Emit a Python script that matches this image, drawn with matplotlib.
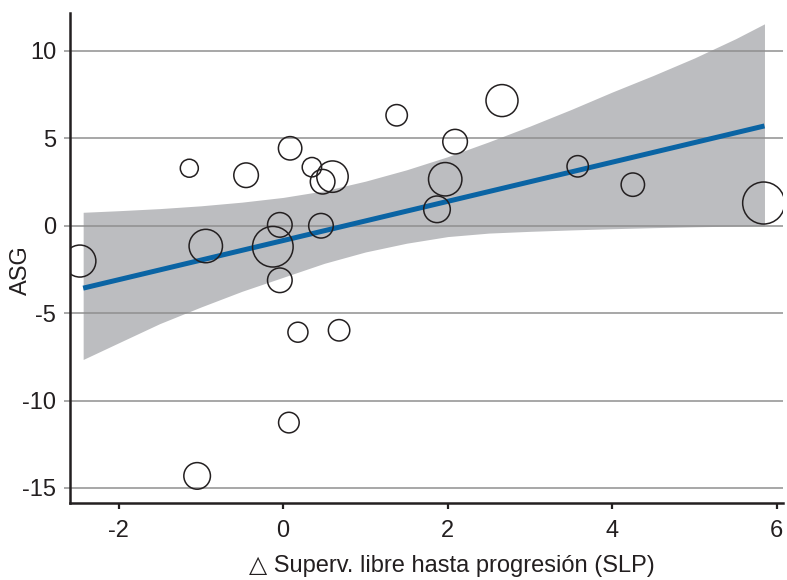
import numpy as np
import matplotlib
matplotlib.use("Agg")
import matplotlib.pyplot as plt

plt.rcParams['font.family'] = ['Liberation Sans', 'DejaVu Sans']
plt.rcParams['axes.unicode_minus'] = False

# study points: change in PFS vs overall survival gain, circle radius ~ study weight
slp = [-2.47, -0.94, -0.125, -0.04, -0.04, 0.18, 0.46, 0.68, 0.07, -1.045,
       -1.14, -0.45, 0.085, 0.35, 0.48, 0.60, 1.38, 2.66, 2.09, 1.97,
       1.87, 3.58, 4.25, 5.84]
asg = [-2.02, -1.16, -1.2, 0.05, -3.12, -6.09, 0.0, -5.98, -11.26, -14.31,
       3.29, 2.89, 4.43, 3.35, 2.52, 2.81, 6.32, 7.16, 4.81, 2.66,
       0.94, 3.40, 2.35, 1.30]
radius_px = [16, 16.7, 20.3, 12.3, 12.3, 10, 12.3, 10.7, 10.3, 13.3,
             9, 12.3, 11.7, 9.7, 12.3, 15.7, 10.7, 16, 12.3, 16.7,
             13.3, 10.7, 11.7, 21]

# fitted regression line and its confidence band
fit_x = [-2.43, 5.85]
fit_y = [-3.57, 5.71]
band_x = [-2.43, -2.0, -1.5, -1.0, -0.5, 0.0, 0.5, 1.0, 1.5, 2.0,
          2.5, 3.0, 3.5, 4.0, 4.5, 5.0, 5.5, 5.85]
band_hi = [0.77, 0.86, 0.98, 1.14, 1.35, 1.62, 2.0, 2.55, 3.2, 3.95,
           4.8, 5.7, 6.65, 7.65, 8.6, 9.6, 10.7, 11.55]
band_lo = [-7.65, -6.7, -5.6, -4.65, -3.75, -2.95, -2.15, -1.5, -1.0, -0.62,
           -0.42, -0.32, -0.24, -0.17, -0.11, -0.06, -0.02, 0.0]

xticks = [-2, 0, 2, 4, 6]
yticks = [10, 5, 0, -5, -10, -15]

dpi = 100
fig = plt.figure(figsize=(7.87, 5.80), dpi=dpi)
ax = fig.add_axes([70 / 787, 1 - 503 / 580, 713 / 787, 490 / 580])

ax.fill_between(band_x, band_lo, band_hi, color='#bcbdc0', lw=0, zorder=1)
for y in yticks:
    ax.axhline(y, color='#8f8f8f', lw=1.1, zorder=2)
ax.plot(fit_x, fit_y, color='#0a64a4', lw=3.6, solid_capstyle='butt', zorder=3)

sizes = [(2 * r * 72 / dpi) ** 2 for r in radius_px]
ax.scatter(slp, asg, s=sizes, facecolors='none', edgecolors='#231f20',
           linewidths=1.1, zorder=4)

ax.set_xlim(-2.59, 6.075)
ax.set_ylim(-15.86, 12.17)
ax.set_xticks(xticks)
ax.set_yticks(yticks)

for side in ['top', 'right']:
    ax.spines[side].set_visible(False)
for side in ['left', 'bottom']:
    ax.spines[side].set_color('#231f20')
    ax.spines[side].set_linewidth(1.8)

fs = 17
ax.tick_params(axis='y', length=4, width=1.1, color='#8f8f8f', pad=6,
               labelsize=fs, labelcolor='#231f20')
ax.tick_params(axis='x', length=4, width=1.6, color='#231f20', pad=8,
               labelsize=fs, labelcolor='#231f20')

ax.set_xlabel('\u25b3 Superv. libre hasta progresión (SLP)', fontsize=fs,
              color='#231f20')
ax.set_ylabel('ASG', fontsize=fs, color='#231f20')
ax.xaxis.set_label_coords(0.535, -0.106)
ax.yaxis.set_label_coords(-0.053, 0.475)

fig.savefig('out.png', dpi=dpi)
